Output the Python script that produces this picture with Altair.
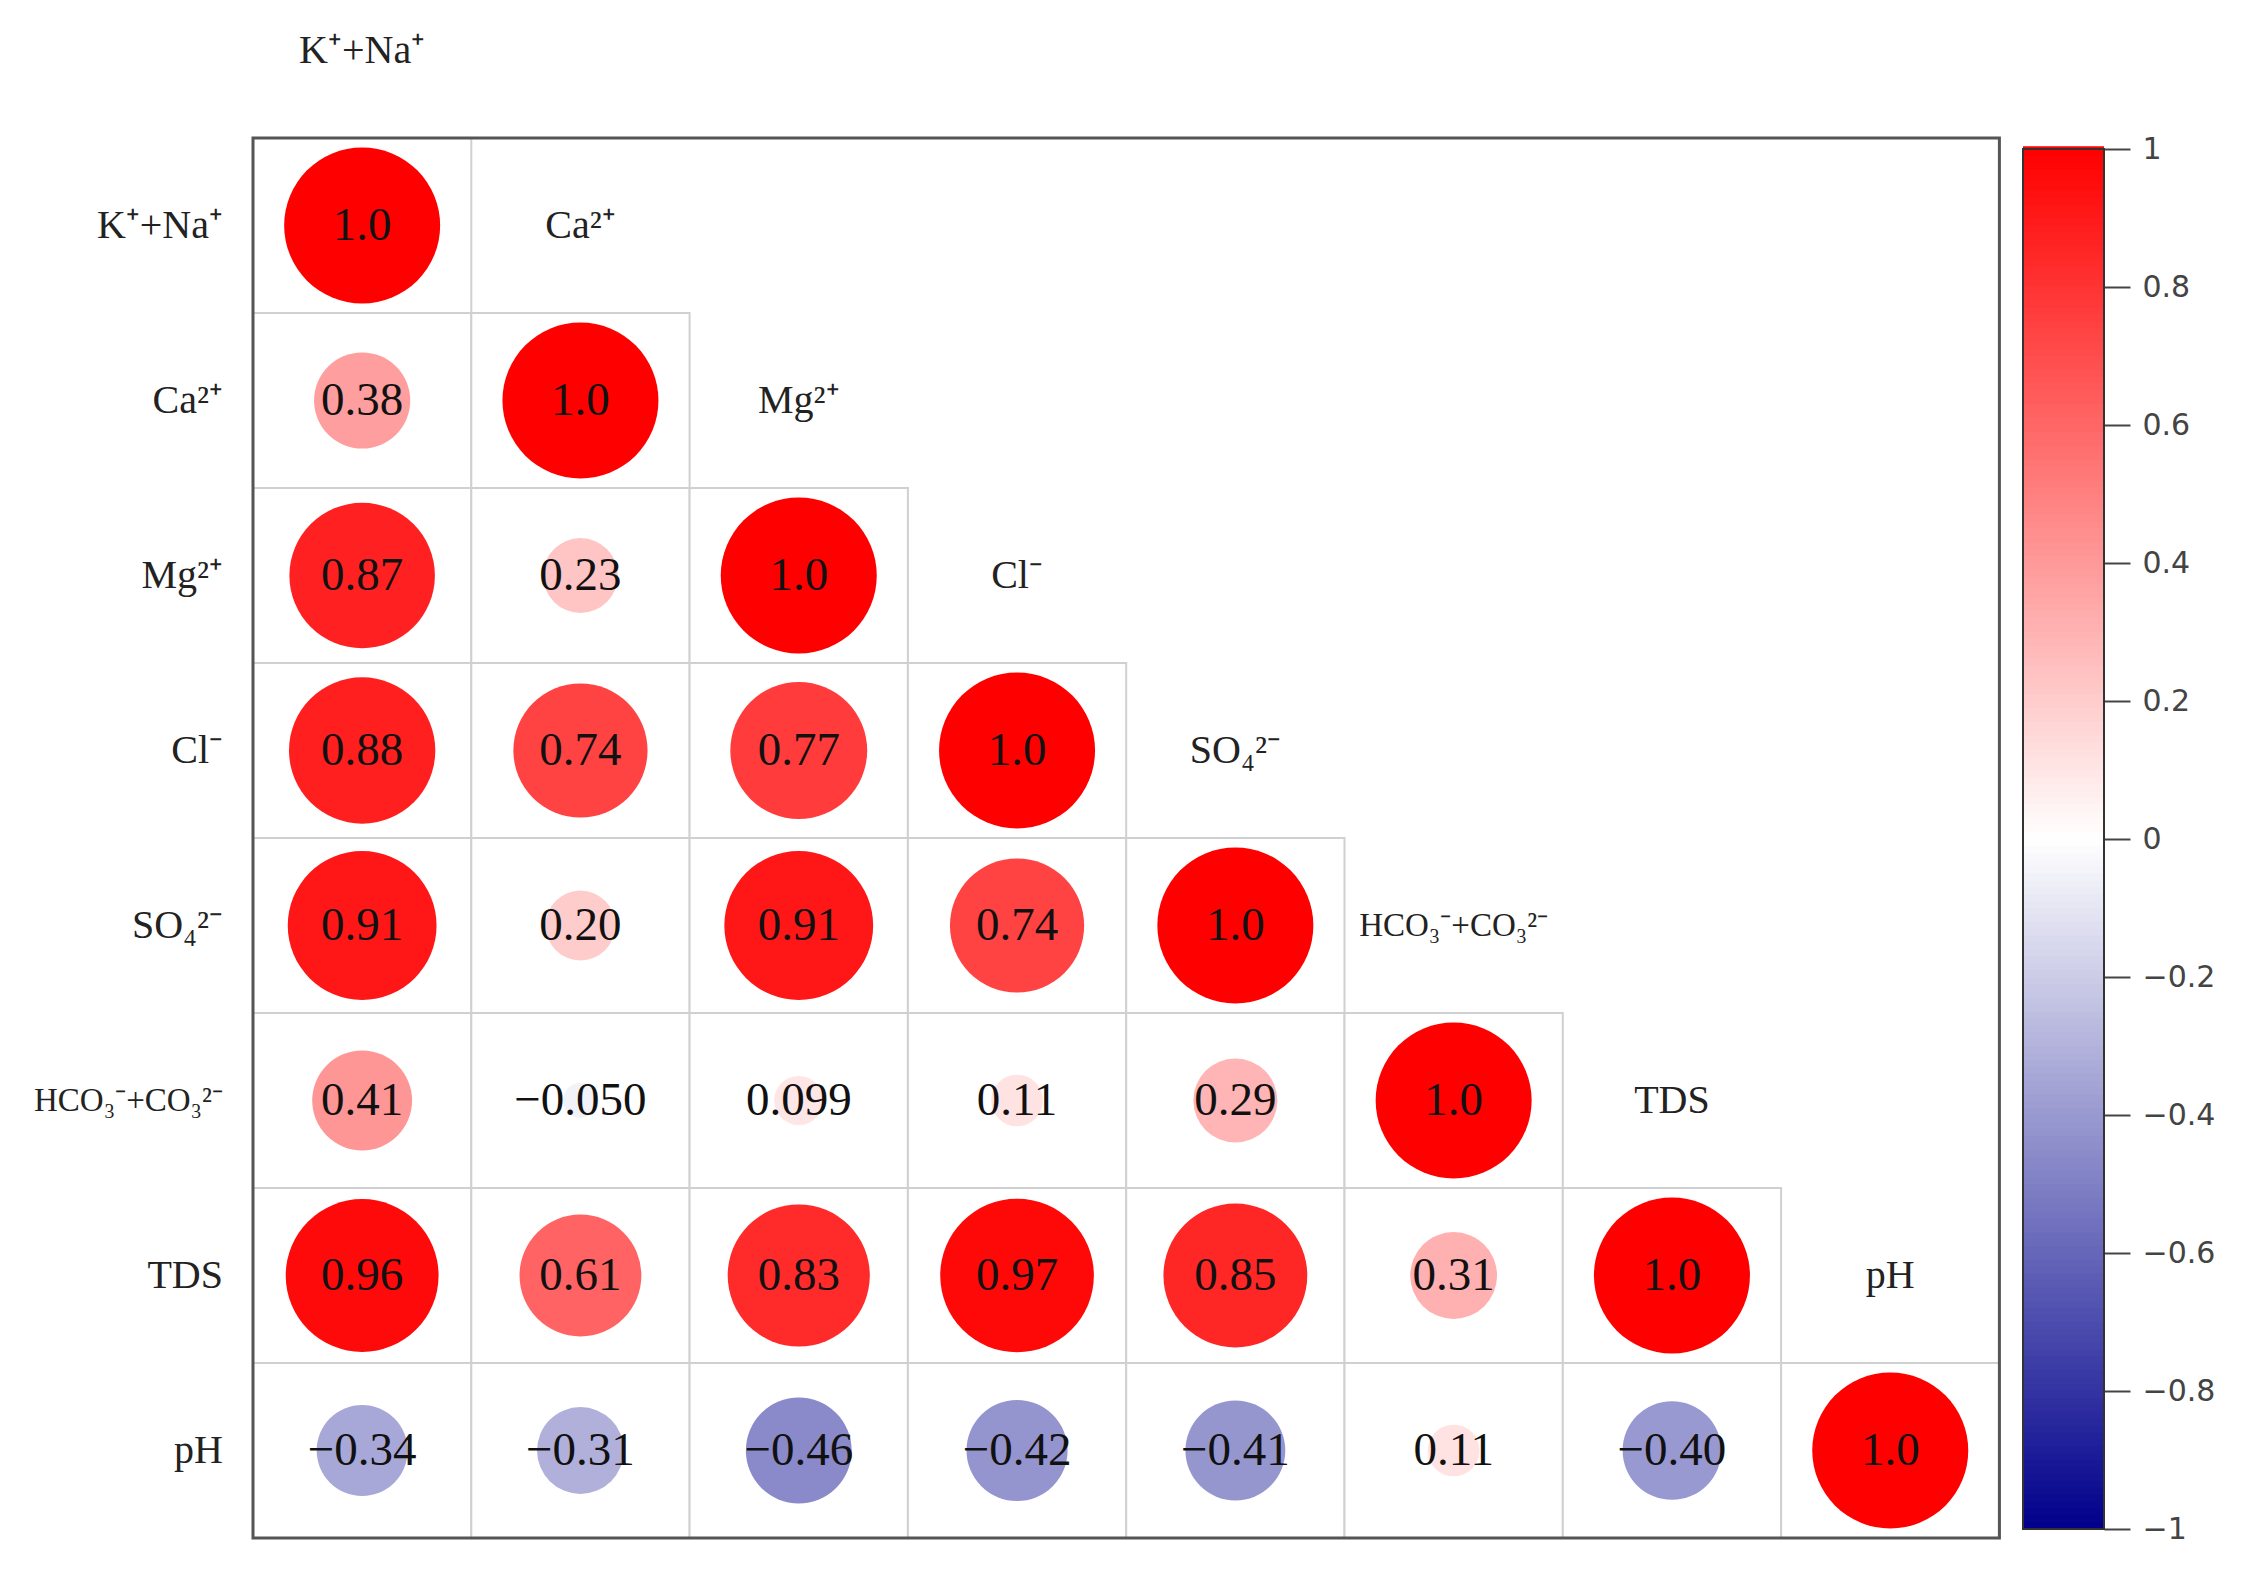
import altair as alt
import numpy as np
import pandas as pd

# ---- data ----
names = ["K⁺+Na⁺", "Ca²⁺", "Mg²⁺", "Cl⁻", "SO₄²⁻", "HCO₃⁻+CO₃²⁻", "TDS", "pH"]
row_0 = [1.0]
row_1 = [0.38, 1.0]
row_2 = [0.87, 0.23, 1.0]
row_3 = [0.88, 0.74, 0.77, 1.0]
row_4 = [0.91, 0.20, 0.91, 0.74, 1.0]
row_5 = [0.41, -0.050, 0.099, 0.11, 0.29, 1.0]
row_6 = [0.96, 0.61, 0.83, 0.97, 0.85, 0.31, 1.0]
row_7 = [-0.34, -0.31, -0.46, -0.42, -0.41, 0.11, -0.40, 1.0]
rows = [row_0, row_1, row_2, row_3, row_4, row_5, row_6, row_7]
cbar_ticks = [1.0, 0.8, 0.6, 0.4, 0.2, 0.0, -0.2, -0.4, -0.6, -0.8, -1.0]

n = len(names)


def fmt(v):
    s = f"{v:#.2g}"
    if s.endswith("."):
        s = s[:-1]
    return s.replace("-", "−")


cells = []
for i, r in enumerate(rows):
    for j, v in enumerate(r):
        cells.append({"x0": j, "x1": j + 1, "xc": j + 0.5, "y0": i, "y1": i + 1,
                      "yc": i + 0.5, "r": v, "absr": abs(v), "lab": fmt(v)})
cells = pd.DataFrame(cells)

diag = pd.DataFrame({"xc": [i + 0.5 for i in range(n)],
                     "yc": [i - 0.5 for i in range(n)],
                     "name": names})
rowlab = pd.DataFrame({"x": [0] * n, "yc": [i + 0.5 for i in range(n)], "name": names})
frame = pd.DataFrame({"x0": [0], "x1": [n], "y0": [0], "y1": [n]})

steps = np.linspace(-1, 1, 201)
cbar = pd.DataFrame({"lo": steps[:-1], "hi": steps[1:] + 0.004,
                     "r": (steps[:-1] + steps[1:]) / 2})
cbar_box = pd.DataFrame({"lo": [-1.0], "hi": [1.0]})

# ---- layout ----
W, H = 2084, 1512
xdom = [(20 - 253) / 218.3, (2104 - 253) / 218.3]
ydom = [(30 - 138) / 175.0, (1542 - 138) / 175.0]
cdom = [-1 - (1542 - 1529) / 690.0, 1 + (149 - 30) / 690.0]

xs = alt.Scale(domain=xdom, nice=False, zero=False)
ys = alt.Scale(domain=ydom, reverse=True, nice=False, zero=False)
color_scale = alt.Scale(domain=[-1, 0, 1], range=["#00008B", "#FFFFFF", "#FF0000"],
                        interpolate="rgb")
FONT = "Liberation Serif"

base = alt.Chart(cells)

grid = base.mark_rect(fill="white", stroke="#D0D0D0", strokeWidth=2).encode(
    x=alt.X("x0:Q", scale=xs, axis=None), x2="x1:Q",
    y=alt.Y("y0:Q", scale=ys, axis=None), y2="y1:Q")

circles = base.mark_circle(opacity=1).encode(
    x=alt.X("xc:Q", scale=xs, axis=None),
    y=alt.Y("yc:Q", scale=ys, axis=None),
    size=alt.Size("absr:Q", scale=alt.Scale(domain=[0, 1], range=[0, 24336]), legend=None),
    color=alt.Color("r:Q", scale=color_scale, legend=None))

values = base.mark_text(font=FONT, fontSize=47, color="#111", baseline="middle",
                        align="center").encode(
    x=alt.X("xc:Q", scale=xs, axis=None),
    y=alt.Y("yc:Q", scale=ys, axis=None),
    text="lab:N")

frame_l = alt.Chart(frame).mark_rect(fill=None, stroke="#555", strokeWidth=3).encode(
    x=alt.X("x0:Q", scale=xs, axis=None), x2="x1:Q",
    y=alt.Y("y0:Q", scale=ys, axis=None), y2="y1:Q")

label_size = alt.condition(alt.datum.name == names[5], alt.value(33), alt.value(40))

diag_l = alt.Chart(diag).mark_text(font=FONT, color="#222",
                                   baseline="middle", align="center").encode(
    x=alt.X("xc:Q", scale=xs, axis=None),
    y=alt.Y("yc:Q", scale=ys, axis=None),
    size=label_size,
    text="name:N")

row_l = alt.Chart(rowlab).mark_text(font=FONT, color="#222",
                                    baseline="middle", align="right", dx=-30).encode(
    x=alt.X("x:Q", scale=xs, axis=None),
    y=alt.Y("yc:Q", scale=ys, axis=None),
    size=label_size,
    text="name:N")

main = alt.layer(grid, frame_l, circles, values, diag_l, row_l)

cs = alt.Scale(domain=cdom, nice=False, zero=False)
cbar_axis = alt.Axis(orient="right", values=cbar_ticks, format=".1~f", domain=False,
                     grid=False, ticks=True, tickSize=26, tickWidth=2, tickColor="#444",
                     labelPadding=12, labelFont="DejaVu Sans", labelFontSize=30,
                     labelColor="#444", title=None, labelFlush=False)

cbar_l = alt.Chart(cbar).mark_rect(strokeWidth=0).encode(
    x=alt.value(2003), x2=alt.value(2084),
    y=alt.Y("lo:Q", scale=cs, axis=cbar_axis), y2="hi:Q",
    color=alt.Color("r:Q", scale=color_scale, legend=None))

cbar_frame = alt.Chart(cbar_box).mark_rect(fill=None, stroke="#333", strokeWidth=2).encode(
    x=alt.value(2003), x2=alt.value(2084),
    y=alt.Y("lo:Q", scale=cs, axis=cbar_axis), y2="hi:Q")

colorbar = alt.layer(cbar_l, cbar_frame)

chart = alt.layer(main, colorbar).resolve_scale(y="independent").properties(
    width=W, height=H,
    padding={"left": 12, "top": 22, "right": 10, "bottom": 10},
    background="white",
).configure_view(stroke=None)

chart.save("out.html", embed_options={"renderer": "svg", "actions": False})
